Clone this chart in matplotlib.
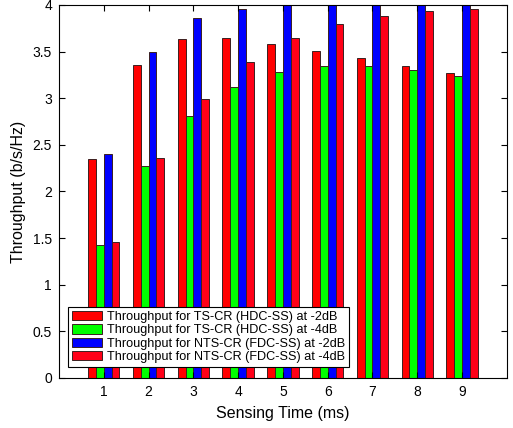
import matplotlib
matplotlib.use("Agg")
import matplotlib.pyplot as plt
import numpy as np

plt.rcParams['font.family'] = ['Liberation Sans', 'DejaVu Sans']

sensing_time = [1, 2, 3, 4, 5, 6, 7, 8, 9]
ts_hdc_2db = [2.35, 3.36, 3.63, 3.64, 3.58, 3.51, 3.43, 3.35, 3.27]
ts_hdc_4db = [1.43, 2.27, 2.81, 3.12, 3.28, 3.34, 3.34, 3.30, 3.24]
nts_fdc_2db = [2.40, 3.50, 3.86, 3.96, 4.00, 4.00, 4.00, 4.00, 4.00]
nts_fdc_4db = [1.46, 2.36, 2.99, 3.39, 3.64, 3.80, 3.88, 3.93, 3.96]

labels = ["Throughput for TS-CR (HDC-SS) at -2dB",
          "Throughput for TS-CR (HDC-SS) at -4dB",
          "Throughput for NTS-CR (FDC-SS) at -2dB",
          "Throughput for NTS-CR (FDC-SS) at -4dB"]
colors = ["#ff0000", "#00ff00", "#0000ff", "#ff0018"]

fig = plt.figure(figsize=(5.13, 4.28), dpi=100)
ax = fig.add_axes([0.115, 0.117, 0.873, 0.8715])

x = np.array(sensing_time, dtype=float)
w = 0.175
series = [ts_hdc_2db, ts_hdc_4db, nts_fdc_2db, nts_fdc_4db]
for i, (vals, c, lab) in enumerate(zip(series, colors, labels)):
    ax.bar(x + (i - 1.5) * w, vals, width=w, color=c, edgecolor="#3a2020",
           linewidth=0.7, label=lab)

ax.set_xlim(0, 10)
ax.set_ylim(0, 4)
ax.set_xticks(sensing_time)
ax.set_yticks([0, 0.5, 1, 1.5, 2, 2.5, 3, 3.5, 4])
ax.set_yticklabels(["0", "0.5", "1", "1.5", "2", "2.5", "3", "3.5", "4"])
ax.tick_params(direction="in", top=True, right=True, labelsize=10, length=4, pad=5)
ax.set_xlabel("Sensing Time (ms)", fontsize=11.5, labelpad=5)
ax.set_ylabel("Throughput (b/s/Hz)", fontsize=11.5, labelpad=5)

leg = ax.legend(loc="lower left", bbox_to_anchor=(0.02, 0.03), borderaxespad=0,
                fontsize=9.1, handlelength=2.4, handleheight=0.75,
                labelspacing=0.1, handletextpad=0.4, borderpad=0.3,
                fancybox=False, framealpha=1, edgecolor="black")
leg.get_frame().set_linewidth(0.8)

fig.savefig("out.png", dpi=100)
